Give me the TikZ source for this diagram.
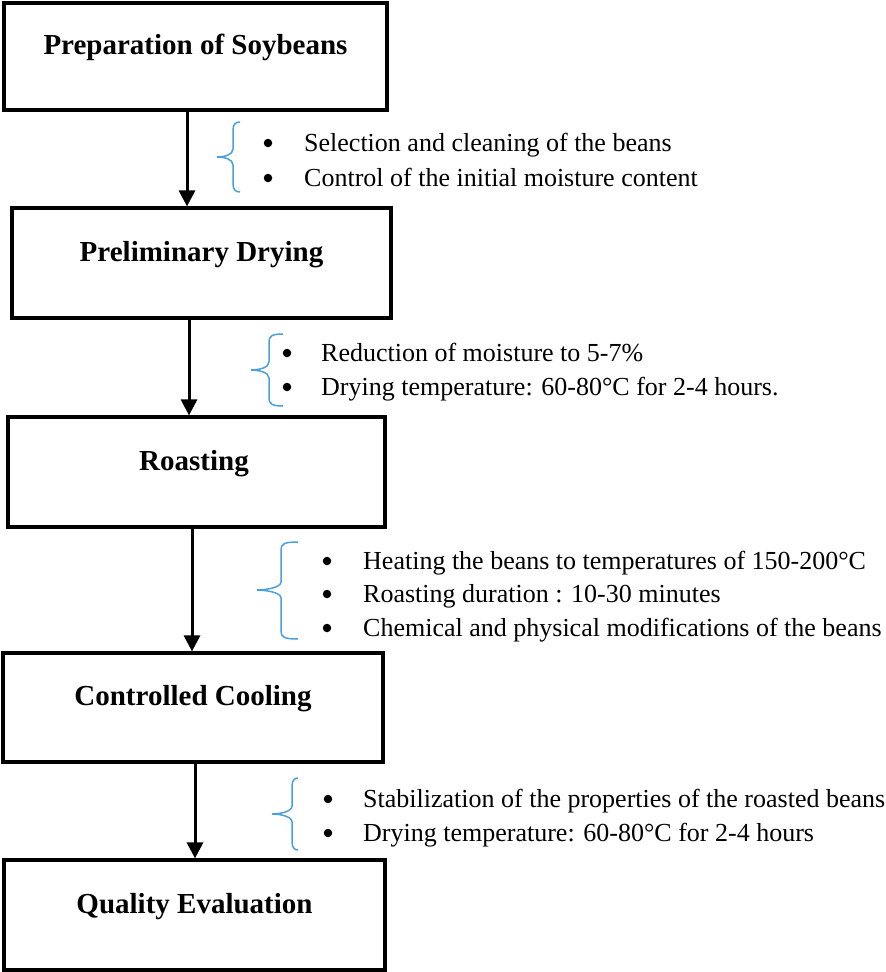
\documentclass[tikz,border=0pt]{standalone}
\usepackage{fontspec}
\setmainfont{Liberation Serif}
\usetikzlibrary{arrows.meta}
\definecolor{braceblue}{RGB}{74,160,222}
\newcommand\sbrace[6]{% tipx, linex, endx, top, bottom, mid
  \draw[bracestyle] (#3,#4) .. controls (#2+3,#4) and (#2,#4+2) .. (#2,#4+8)
    -- (#2,#6-8) .. controls (#2,#6-2) and (#1+7,#6) .. (#1,#6)
    .. controls (#1+7,#6) and (#2,#6+2) .. (#2,#6+8)
    -- (#2,#5-8) .. controls (#2,#5-2) and (#2+3,#5) .. (#3,#5);}
\begin{document}
\begin{tikzpicture}[x=1pt,y=-1pt,
  box/.style={draw=black, line width=3.2pt, rectangle, inner sep=0pt, fill=none},
  title/.style={anchor=base, inner sep=0pt, font=\fontsize{29}{34}\selectfont\bfseries},
  item/.style={anchor=base west, inner sep=0pt, font=\fontsize{26}{34}\selectfont},
  bul/.style={circle, fill=black, inner sep=0pt, minimum size=8.5pt},
  arr/.style={line width=3pt, -{Triangle[width=16pt,length=16pt]}},
  bracestyle/.style={draw=braceblue, line width=1.5pt}]
\useasboundingbox (0,0) rectangle (886,972);
\fill[white] (0,0) rectangle (886,972);
% boxes
\node[box, minimum width=383pt, minimum height=107pt] (b1) at (195.5,56.5) {};
\node[box, minimum width=379pt, minimum height=110pt] (b2) at (201.5,263) {};
\node[box, minimum width=377pt, minimum height=110pt] (b3) at (196.5,472) {};
\node[box, minimum width=380pt, minimum height=109pt] (b4) at (193,707.5) {};
\node[box, minimum width=381pt, minimum height=110pt] (b5) at (194.5,915) {};
% titles
\node[title] (t1) at (195.5,54) {Preparation of Soybeans};
\node[title] (t2) at (201.5,261) {Preliminary Drying};
\node[title] (t3) at (194,470) {Roasting};
\node[title] (t4) at (193,705) {Controlled Cooling};
\node[title] (t5) at (194.5,913) {Quality Evaluation};
% arrows
\coordinate (a1) at (187,0);
\coordinate (a2) at (189,0);
\coordinate (a3) at (192,0);
\coordinate (a4) at (195,0);
\draw[arr] (b1.south -| a1) -- (b2.north -| a1);
\draw[arr] (b2.south -| a2) -- (b3.north -| a2);
\draw[arr] (b3.south -| a3) -- (b4.north -| a3);
\draw[arr] (b4.south -| a4) -- (b5.north -| a4);
% braces
\sbrace{217}{233}{240}{122}{192}{157}
\sbrace{251}{269}{283}{334}{406}{370}
\sbrace{257}{281}{298}{542}{639}{590}
\sbrace{272}{292}{298}{778}{850}{814}
% items 1
\node[bul] (p11) at (268,143) {};
\node[item] (i11) at (304,151) {Selection and cleaning of the beans};
\node[bul] (p12) at (268,178) {};
\node[item] (i12) at (304,186) {Control of the initial moisture content};
% items 2
\node[bul] (p21) at (287,353) {};
\node[item] (i21) at (321,361) {Reduction of moisture to 5-7\%};
\node[bul] (p22) at (287,387) {};
\node[item] (i22) at (321,395) {Drying temperature: 60-80°C for 2-4 hours.};
% items 3
\node[bul] (p31) at (327,561) {};
\node[item] (i31) at (363,569) {Heating the beans to temperatures of 150-200°C};
\node[bul] (p32) at (327,594) {};
\node[item] (i32) at (363,602) {Roasting duration : 10-30 minutes};
\node[bul] (p33) at (327,628) {};
\node[item] (i33) at (363,636) {Chemical and physical modifications of the beans};
% items 4
\node[bul] (p41) at (328,799) {};
\node[item] (i41) at (363,807) {Stabilization of the properties of the roasted beans};
\node[bul] (p42) at (328,833) {};
\node[item] (i42) at (363,841) {Drying temperature: 60-80°C for 2-4 hours};
\end{tikzpicture}
\end{document}
